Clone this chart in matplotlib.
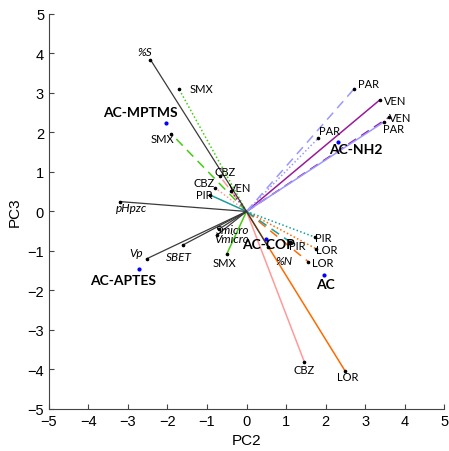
import matplotlib
matplotlib.use("Agg")
import matplotlib.pyplot as plt

# loadings (PC2, PC3) of the adsorption data
drugs = ["CBZ", "LOR", "SMX", "PIR", "VEN", "PAR"]
solid_x = [1.46, 2.49, -0.50, -0.93, 3.37, 3.47]
solid_y = [-3.80, -4.03, -1.08, 0.42, 2.82, 2.26]
dashed_x = [-0.68, 1.56, -1.90, 1.10, 3.60, 2.72]
dashed_y = [0.90, -1.27, 1.96, -0.77, 2.38, 3.10]
dotted_x = [-0.80, 1.77, -1.71, 1.73, -0.40, 1.81]
dotted_y = [0.60, -0.95, 3.10, -0.65, 0.52, 1.85]

# loadings of the material descriptors
descr = ["%S", "pHpzc", "Vp", "SBET", "Smicro", "Vmicro", "%N"]
descr_x = [-2.43, -3.21, -2.53, -1.61, -0.70, -0.75, 0.55]
descr_y = [3.84, 0.25, -1.20, -0.85, -0.45, -0.60, -0.90]

# scores of the adsorbents
samples = ["AC-MPTMS", "AC-NH2", "AC-COP", "AC", "AC-APTES"]
samp_x = [-2.05, 2.32, 0.50, 1.96, -2.72]
samp_y = [2.23, 1.77, -0.70, -1.60, -1.46]

colors = {"CBZ": "#ff9a9a", "LOR": "#ff6a00", "SMX": "#44cc11",
          "PIR": "#1a9e9e", "VEN": "#9a1a9a", "PAR": "#9999ff"}

# label anchor positions (centre of text)
lab_solid = [(1.47, -4.0), (2.55, -4.19), (-0.55, -1.3), (-1.08, 0.42), (3.75, 2.82), (3.73, 2.09)]
lab_dashed = [(-0.53, 1.0), (1.93, -1.28), (-2.12, 1.85), (1.28, -0.86), (3.89, 2.39), (3.08, 3.23)]
lab_dotted = [(-1.08, 0.72), (2.04, -0.97), (-1.15, 3.10), (1.95, -0.65), (-0.15, 0.6), (2.11, 2.04)]
lab_descr = [(-2.58, 4.06), (-2.92, 0.09), (-2.79, -1.05), (-1.70, -1.13),
             (-0.34, -0.46), (-0.37, -0.68), (0.94, -1.25)]
lab_samp = [(-2.68, 2.52), (2.77, 1.58), (0.56, -0.82), (1.99, -1.84), (-3.13, -1.73)]

plt.rcParams['font.family'] = ['Liberation Sans', 'DejaVu Sans']
lab_font = ['Lato', 'DejaVu Sans']

fig = plt.figure(figsize=(4.49, 4.52), dpi=100)
ax = fig.add_axes([0.109, 0.093, 0.880, 0.874])

for i, d in enumerate(drugs):
    c = colors[d]
    ax.plot([0, solid_x[i]], [0, solid_y[i]], color=c, lw=1.1, ls="-")
    ax.plot([0, dashed_x[i]], [0, dashed_y[i]], color=c, lw=1.1, ls=(0, (6, 4)))
    ax.plot([0, dotted_x[i]], [0, dotted_y[i]], color=c, lw=1.1, ls=(0, (1, 1.5)))
    for px, py, (lx, ly) in [(solid_x[i], solid_y[i], lab_solid[i]),
                             (dashed_x[i], dashed_y[i], lab_dashed[i]),
                             (dotted_x[i], dotted_y[i], lab_dotted[i])]:
        ax.plot(px, py, "o", color="black", ms=1.6, zorder=4)
        ax.text(lx, ly, d, fontsize=8, family=lab_font, ha="center", va="center", zorder=3)

for i, d in enumerate(descr):
    ax.plot([0, descr_x[i]], [0, descr_y[i]], color="#3a3a3a", lw=0.9)
    ax.plot(descr_x[i], descr_y[i], "o", color="black", ms=1.6)
    lx, ly = lab_descr[i]
    ax.text(lx, ly, d, fontsize=8.5, family=lab_font, style="italic",
            ha="center", va="center")

for i, s in enumerate(samples):
    ax.plot(samp_x[i], samp_y[i], "o", color="blue", ms=2, zorder=5)
    lx, ly = lab_samp[i]
    ax.text(lx, ly, s, fontsize=10, family=lab_font, weight="bold",
            ha="center", va="center", zorder=6)

ax.set_xlim(-5, 5)
ax.set_ylim(-5, 5)
ax.set_xticks(range(-5, 6))
ax.set_yticks(range(-5, 6))
ax.tick_params(direction="in", length=3.5, labelsize=10.5, color="#444444")
for sp in ["top", "right"]:
    ax.spines[sp].set_visible(False)
for sp in ["left", "bottom"]:
    ax.spines[sp].set_color("#444444")
    ax.spines[sp].set_linewidth(0.8)
ax.set_xlabel("PC2", fontsize=11)
ax.set_ylabel("PC3", fontsize=11)

fig.savefig("out.png", dpi=100)
